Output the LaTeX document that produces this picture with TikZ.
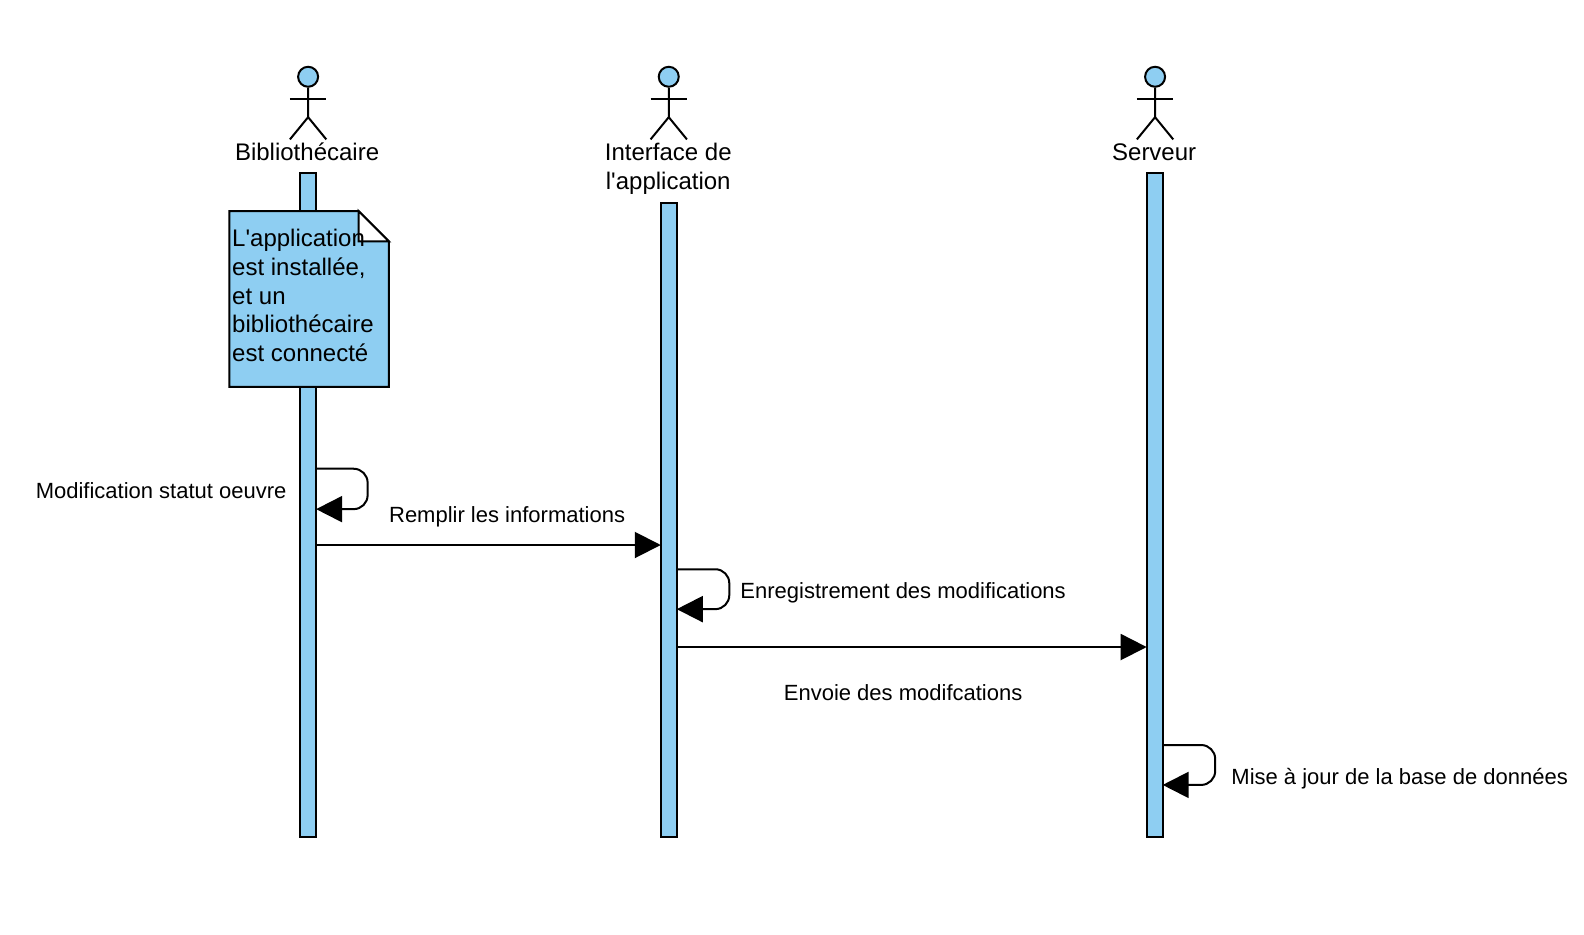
\documentclass[tikz,border=0pt]{standalone}
\usepackage{fontspec}
\setmainfont{Liberation Sans}
\usetikzlibrary{arrows.meta}
\definecolor{lineblue}{HTML}{8ECEF2}

\tikzset{
    lifebar/.style={draw, fill=lineblue, line width=1pt, minimum width=8pt, inner sep=0pt, outer sep=0pt, anchor=north},
    actorhead/.style={draw, circle, fill=lineblue, line width=1pt, minimum size=10pt, inner sep=0pt},
    actorname/.style={font=\fontsize{12}{14.4}\selectfont, align=center, inner sep=0pt},
    msglabel/.style={font=\fontsize{11}{13}\selectfont, inner sep=0pt},
    msg/.style={line width=1pt, -{Triangle[length=13pt, width=13pt]}},
    selfmsg/.style={msg, rounded corners=7pt},
}

\begin{document}
\begin{tikzpicture}[x=0.505pt, y=-0.505pt]
    \useasboundingbox (0,0) rectangle (1568,924.6);

    % actors
    \foreach \name/\x in {biblio/305, inter/662, serveur/1143.4} {
        \node[actorhead] (head\name) at (\x,76) {};
        \draw[line width=1pt] (head\name.south) -- (\x,116) -- (\x-18,138);
        \draw[line width=1pt] (\x,116) -- (\x+18,138);
        \draw[line width=1pt] (\x-18,98) -- (\x+18,98);
    }
    \node[actorname] (namebiblio) at (304,150) {Bibliothécaire};
    \node[actorname] (nameinter) at (661.5,167) {Interface de\\l\textquotesingle application};
    \node[actorname] (nameserveur) at (1142.5,151) {Serveur};

    % lifelines
    \node[lifebar, minimum height=332.3pt] (barbiblio) at (305,171) {};
    \node[lifebar, minimum height=317.1pt] (barinter) at (662,201) {};
    \node[lifebar, minimum height=332.3pt] (barserveur) at (1143,171) {};

    % note
    \draw[line width=1pt, fill=lineblue] (227,209) -- (355,209) -- (385,239) -- (385,383) -- (227,383) -- cycle;
    \draw[line width=1pt, fill=white] (355,209) -- (385,239) -- (355,239) -- cycle;
    \node[actorname, align=left, anchor=west] (notetext) at (229.5,292.5) {L\textquotesingle application\\est installée,\\et un\\bibliothécaire\\est connecté};

    % messages
    \coordinate (selfaout) at (barbiblio.east |- 0,464);
    \coordinate (selfain) at (barbiblio.east |- 0,504);
    \coordinate (remplirout) at (barbiblio.east |- 0,539.5);
    \coordinate (remplirin) at (barinter.west |- 0,539.5);
    \coordinate (selfbout) at (barinter.east |- 0,563.5);
    \coordinate (selfbin) at (barinter.east |- 0,603);
    \coordinate (envoiout) at (barinter.east |- 0,640.5);
    \coordinate (envoiin) at (barserveur.west |- 0,640.5);
    \coordinate (selfcout) at (barserveur.east |- 0,737.5);
    \coordinate (selfcin) at (barserveur.east |- 0,777);

    \draw[selfmsg] (selfaout) -- ++(51,0) -- ++(0,40) -- (selfain);
    \draw[msg] (remplirout) -- (remplirin);
    \draw[selfmsg] (selfbout) -- ++(52,0) -- ++(0,39.5) -- (selfbin);
    \draw[msg] (envoiout) -- (envoiin);
    \draw[selfmsg] (selfcout) -- ++(52,0) -- ++(0,39.5) -- (selfcin);

    \node[msglabel] (labelstatut) at (159.5,486) {Modification statut oeuvre};
    \node[msglabel] (labelremplir) at (502,512) {Remplir les informations};
    \node[msglabel] (labelenreg) at (894,587) {Enregistrement des modifications};
    \node[msglabel] (labelenvoi) at (894,686) {Envoie des modifcations};
    \node[msglabel] (labelmaj) at (1385.5,771) {Mise à jour de la base de données};
\end{tikzpicture}
\end{document}
